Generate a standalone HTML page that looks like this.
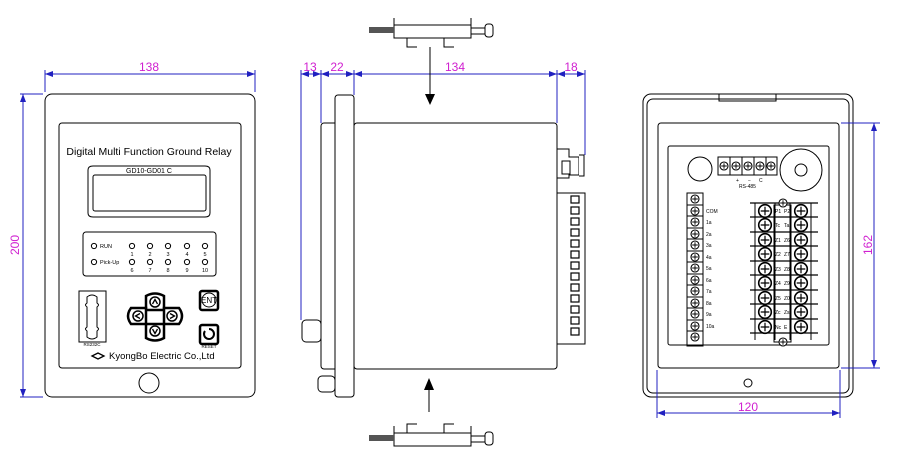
<!DOCTYPE html>
<html><head><meta charset="utf-8"><style>
html,body{margin:0;padding:0;background:#fff;width:900px;height:463px;overflow:hidden}
svg{display:block}
text{font-family:"Liberation Sans",sans-serif}
.d{fill:#d020d0;font-size:12px}
</style></head><body>
<svg width="900" height="463" viewBox="0 0 900 463" xmlns="http://www.w3.org/2000/svg">
<defs>
<marker id="a" markerWidth="8" markerHeight="6" refX="8" refY="3" orient="auto-start-reverse" markerUnits="userSpaceOnUse"><path d="M0,0L8,3L0,6z" fill="#2020c0"/></marker>
<g id="sc"><circle r="6.3" fill="#fff" stroke="#000" stroke-width="1.6"/><path d="M-4.3,0H4.3M0,-4.3V4.3" stroke="#000" stroke-width="1.2"/></g>
<g id="ss"><circle r="4" fill="#fff" stroke="#000" stroke-width="1.1"/><path d="M-2.8,0H2.8M0,-2.8V2.8" stroke="#000" stroke-width=".9"/></g>
<g id="led"><circle r="2.6" fill="#fff" stroke="#000" stroke-width="1"/></g>
</defs>
<g fill="none" stroke="#000" stroke-width="1">
<rect x="45" y="94" width="210" height="303" rx="7"/>
<rect x="59" y="123" width="182" height="245" rx="3"/>
<path d="M88,170 q0,-4 5,-4 h112 q5,0 5,4 v43 q0,4 -5,4 h-112 q-5,0 -5,-4z"/>
<rect x="93" y="175" width="113" height="36" rx="2"/>
<rect x="83" y="232" width="133" height="44" rx="3"/>
<rect x="79" y="291" width="27" height="51"/>
<path d="M87,297 q5,-4 10,0 v6 q3,2 0,4 v20 q3,2 0,4 v6 q-5,4 -10,0 v-6 q-3,-2 0,-4 v-20 q-3,-2 0,-4z"/>
<circle cx="149" cy="383" r="10"/>
</g>
<g stroke="#000" stroke-width="2.5" fill="#fff">
<path d="M146,296 q9,-5 18,0 v14 h-18z"/><path d="M146,324 h18 v14 q-9,5 -18,0z"/>
<path d="M131,308 h15 v16 h-15 q-6,-8 0,-16z"/><path d="M164,308 h15 q6,8 0,16 h-15z"/>
<rect x="200" y="291" width="18" height="19" rx="2"/><rect x="200" y="325" width="18" height="19" rx="2"/>
</g>
<g fill="none" stroke="#000" stroke-width="1.5">
<circle cx="155" cy="302" r="5"/><circle cx="155" cy="331" r="5"/><circle cx="138" cy="316" r="5"/><circle cx="172" cy="316" r="5"/>
<circle cx="209" cy="300" r="7" stroke-width="1"/><path d="M205,331 a5,5 0 1 0 4,-2" stroke-width="2"/>
<path d="M152.5,304 L155,299.5 L157.5,304 M152.5,329 L155,333.5 L157.5,329 M140,313.5 L135.5,316 L140,318.5 M170,313.5 L174.5,316 L170,318.5" stroke-width="1.3"/>
</g>
<text x="209" y="303" font-size="8" text-anchor="middle">ENT</text>
<text x="149" y="155" font-size="10.5" text-anchor="middle">Digital Multi Function Ground Relay</text>
<text x="149" y="173" font-size="7" text-anchor="middle">GD10-GD01 C</text>
<g fill="#000" font-size="5.5">
<text x="100" y="248">RUN</text><text x="100" y="264">Pick-Up</text>
<g text-anchor="middle"><text x="132" y="256">1</text><text x="150" y="256">2</text><text x="168" y="256">3</text><text x="187" y="256">4</text><text x="205" y="256">5</text>
<text x="132" y="272">6</text><text x="150" y="272">7</text><text x="168" y="272">8</text><text x="187" y="272">9</text><text x="205" y="272">10</text>
<text x="92" y="346" font-size="4.5">RS232C</text><text x="209" y="348" font-size="4.5">RESET</text></g>
</g>
<use href="#led" x="94" y="246"/><use href="#led" x="132" y="246"/><use href="#led" x="150" y="246"/><use href="#led" x="168" y="246"/><use href="#led" x="187" y="246"/><use href="#led" x="205" y="246"/>
<use href="#led" x="94" y="262"/><use href="#led" x="132" y="262"/><use href="#led" x="150" y="262"/><use href="#led" x="168" y="262"/><use href="#led" x="187" y="262"/><use href="#led" x="205" y="262"/>
<path d="M92,356 l6,-3 l6,3 l-6,3z" fill="#fff" stroke="#000" stroke-width="1.3"/>
<text x="109" y="359" font-size="9.5">KyongBo Electric Co.,Ltd</text>
<g stroke="#2020c0" stroke-width="1" fill="none">
<path d="M45,92V70M255,92V70"/><path d="M45,74H255" marker-start="url(#a)" marker-end="url(#a)"/>
<path d="M43,94H20M43,397H20"/><path d="M23,94V397" marker-start="url(#a)" marker-end="url(#a)"/>
</g>
<text class="d" x="149" y="71" text-anchor="middle">138</text>
<text class="d" transform="translate(19,245) rotate(-90)" text-anchor="middle">200</text>

<g fill="#fff" stroke="#000" stroke-width="1">
<rect x="321" y="123" width="20" height="246" rx="3"/>
<rect x="354" y="123" width="203" height="246" rx="3"/>
<rect x="335" y="95" width="19" height="302" rx="3"/>
<rect x="302" y="320" width="19" height="22" rx="4"/>
<rect x="318" y="376" width="17" height="16" rx="4"/>
<path d="M557,149h12v8h10v18h-10v3h-12z"/><rect x="562" y="161" width="8" height="13"/>
<path d="M579,155h5v21h-5"/>
<rect x="557" y="193" width="28" height="151"/>
</g>
<g fill="#fff" stroke="#000" stroke-width="1.2">
<rect x="571" y="196" width="8" height="7"/><rect x="571" y="207" width="8" height="7"/><rect x="571" y="218" width="8" height="7"/><rect x="571" y="229" width="8" height="7"/><rect x="571" y="240" width="8" height="7"/><rect x="571" y="251" width="8" height="7"/><rect x="571" y="262" width="8" height="7"/><rect x="571" y="273" width="8" height="7"/><rect x="571" y="284" width="8" height="7"/><rect x="571" y="295" width="8" height="7"/><rect x="571" y="306" width="8" height="7"/><rect x="571" y="317" width="8" height="7"/><rect x="571" y="328" width="8" height="7"/>
</g>
<g stroke="#2020c0" stroke-width="1" fill="none">
<path d="M301,320V70M321,123V70M354,95V70M557,123V70M585,155V70"/>
<path d="M301,74H321" marker-start="url(#a)" marker-end="url(#a)"/><path d="M321,74H354" marker-start="url(#a)" marker-end="url(#a)"/>
<path d="M354,74H557" marker-start="url(#a)" marker-end="url(#a)"/><path d="M557,74H585" marker-start="url(#a)" marker-end="url(#a)"/>
</g>
<text class="d" x="310" y="71" text-anchor="middle">13</text><text class="d" x="337" y="71" text-anchor="middle">22</text>
<text class="d" x="455" y="71" text-anchor="middle">134</text><text class="d" x="571" y="71" text-anchor="middle">18</text>
<g fill="#fff" stroke="#000" stroke-width="1">
<rect x="394" y="25" width="77" height="13"/><path d="M394,18v20M471,18v20"/>
<path d="M407,38v9h10M444,38v9h10"/>
<rect x="471" y="28" width="14" height="6"/><rect x="485" y="24" width="8" height="13" rx="3"/>
<rect x="394" y="433" width="77" height="13"/><path d="M394,426v20M471,426v20"/>
<path d="M407,433v-9h10M444,433v-9h10"/>
<rect x="471" y="436" width="14" height="6"/><rect x="485" y="432" width="8" height="13" rx="3"/>
</g>
<rect x="369" y="27" width="25" height="6" fill="#555"/><rect x="369" y="435" width="25" height="6" fill="#555"/>
<path d="M430,47V95" stroke="#000"/><path d="M425,94h10l-5,11z" fill="#000"/>
<path d="M429,412V388" stroke="#000"/><path d="M424,390h10l-5,-12z" fill="#000"/>

<g fill="none" stroke="#000" stroke-width="1">
<rect x="643" y="94" width="210" height="303" rx="8"/>
<rect x="647" y="99" width="202" height="294" rx="6"/>
<path d="M719,94v7h57v-7"/>
<rect x="658" y="123" width="181" height="245" rx="3"/>
<rect x="668" y="146" width="161" height="199" rx="2"/>
<circle cx="700" cy="169" r="12"/>
<circle cx="801" cy="170" r="21"/><circle cx="801" cy="170" r="6"/>
<circle cx="748" cy="383" r="4"/>
<rect x="718" y="157" width="59" height="18"/>
<rect x="687" y="193" width="16" height="153"/>
<rect x="774" y="205" width="17" height="137"/>
</g>
<g stroke="#000" stroke-width="1.2">
<path d="M750,203H818M750,217H818M750,232H818M750,246H818M750,261H818M750,275H818M750,290H818M750,304H818M750,319H818M750,333H818"/>
<path d="M755,203V340M775,203V340M790,203V340M811,203V340" stroke-width="1"/>
<path d="M730,157v18M742,157v18M754,157v18M766,157v18" stroke-width="1"/>
<path d="M687,205H703M687,216H703M687,228H703M687,239H703M687,251H703M687,262H703M687,274H703M687,285H703M687,297H703M687,308H703M687,320H703M687,331H703" stroke-width="1"/>
</g>
<use href="#ss" x="724" y="166"/><use href="#ss" x="736" y="166"/><use href="#ss" x="748" y="166"/><use href="#ss" x="760" y="166"/><use href="#ss" x="771" y="166"/>
<use href="#ss" x="695" y="199"/><use href="#ss" x="695" y="211"/><use href="#ss" x="695" y="222"/><use href="#ss" x="695" y="234"/><use href="#ss" x="695" y="245"/><use href="#ss" x="695" y="257"/><use href="#ss" x="695" y="268"/><use href="#ss" x="695" y="280"/><use href="#ss" x="695" y="291"/><use href="#ss" x="695" y="303"/><use href="#ss" x="695" y="314"/><use href="#ss" x="695" y="326"/><use href="#ss" x="695" y="337"/>
<use href="#ss" x="783" y="203"/><use href="#ss" x="783" y="342"/>
<use href="#sc" x="765" y="211"/><use href="#sc" x="765" y="225"/><use href="#sc" x="765" y="240"/><use href="#sc" x="765" y="254"/><use href="#sc" x="765" y="269"/><use href="#sc" x="765" y="283"/><use href="#sc" x="765" y="298"/><use href="#sc" x="765" y="312"/><use href="#sc" x="765" y="327"/>
<use href="#sc" x="801" y="211"/><use href="#sc" x="801" y="225"/><use href="#sc" x="801" y="240"/><use href="#sc" x="801" y="254"/><use href="#sc" x="801" y="269"/><use href="#sc" x="801" y="283"/><use href="#sc" x="801" y="298"/><use href="#sc" x="801" y="312"/><use href="#sc" x="801" y="327"/>
<g font-size="5" fill="#000">
<text x="736" y="182">+</text><text x="748" y="182">−</text><text x="759" y="182">C</text><text x="739" y="188">RS-485</text>
<text x="706" y="213">COM</text><text x="706" y="224">1a</text><text x="706" y="236">2a</text><text x="706" y="247">3a</text><text x="706" y="259">4a</text><text x="706" y="270">5a</text><text x="706" y="282">6a</text><text x="706" y="293">7a</text><text x="706" y="305">8a</text><text x="706" y="316">9a</text><text x="706" y="328">10a</text>
<text x="775" y="213">P1</text><text x="784" y="213">P2</text><text x="775" y="227">Tc</text><text x="784" y="227">Ta</text>
<text x="775" y="242">Z1</text><text x="784" y="242">Z6</text><text x="775" y="256">Z2</text><text x="784" y="256">Z7</text>
<text x="775" y="271">Z3</text><text x="784" y="271">Z8</text><text x="775" y="285">Z4</text><text x="784" y="285">Z9</text>
<text x="775" y="300">Z5</text><text x="784" y="300">Z0</text><text x="775" y="314">Zc</text><text x="784" y="314">Zs</text>
<text x="775" y="329">Nc</text><text x="784" y="329">E</text>
</g>
<g stroke="#2020c0" stroke-width="1" fill="none">
<path d="M841,123H880M841,368H880"/><path d="M874,123V368" marker-start="url(#a)" marker-end="url(#a)"/>
<path d="M657,370V418M840,370V418"/><path d="M657,413H840" marker-start="url(#a)" marker-end="url(#a)"/>
</g>
<text class="d" transform="translate(872,245) rotate(-90)" text-anchor="middle">162</text>
<text class="d" x="748" y="411" text-anchor="middle">120</text>
</svg>
</body></html>
